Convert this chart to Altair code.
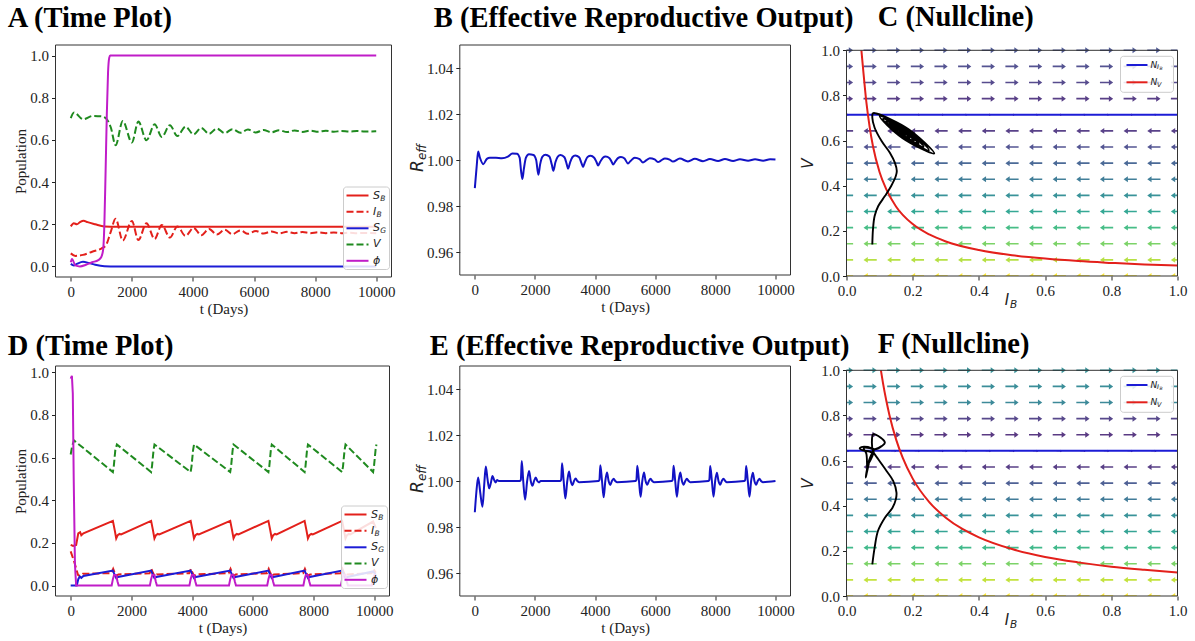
import altair as alt
import pandas as pd

SERIF = "Liberation Serif"
SANS = "DejaVu Sans"
RED = "#e3201b"
BLUE = "#1c1cd6"
DBLUE = "#1212c4"
GREEN = "#1f8a1f"
MAGENTA = "#c01cc8"
BLACK = "#000000"
DASH = [7, 3]

T_TICKS = [0, 2000, 4000, 6000, 8000, 10000]
POP_TICKS = [0.0, 0.2, 0.4, 0.6, 0.8, 1.0]
R_TICKS = [0.96, 0.98, 1.00, 1.02, 1.04]
UNIT_TICKS = [0.0, 0.2, 0.4, 0.6, 0.8, 1.0]

PANEL_TITLES = ["A (Time Plot)", "B (Effective Reproductive Output)", "C (Nullcline)",
                "D (Time Plot)", "E (Effective Reproductive Output)", "F (Nullcline)"]

TS_LEG_MAIN = ["S", "I", "S", "V", "ϕ"]
TS_LEG_SUB = ["B", "B", "G", "", ""]
NC_LEG_MAIN = ["N", "N"]
NC_LEG_SUB = ["I", "V"]
NC_LEG_SUBSUB = ["B", ""]

# ---------------- Panel A ----------------
A_SB_T = [0, 100, 200, 300, 420, 550, 800, 1100, 1500, 10000]
A_SB = [0.19, 0.205, 0.2, 0.21, 0.217, 0.21, 0.2, 0.19, 0.188, 0.188]
A_IB_T = [0, 150, 400, 700, 1000, 1150, 1300, 1468, 1702, 2000, 2213, 2479, 2745, 2979, 3245, 3490,
          3756, 4022, 4270, 4530, 4780, 5040, 5290, 5550, 5800, 6060, 6310, 6570, 6820, 7080, 7330,
          7590, 7840, 8100, 8350, 8610, 8860, 9120, 9370, 9630, 10000]
A_IB = [0.062, 0.05, 0.055, 0.07, 0.085, 0.1, 0.16, 0.226, 0.123, 0.216, 0.125, 0.205, 0.13, 0.197,
        0.137, 0.19, 0.145, 0.183, 0.148, 0.178, 0.151, 0.174, 0.153, 0.171, 0.155, 0.168, 0.156,
        0.166, 0.157, 0.164, 0.158, 0.163, 0.158, 0.162, 0.158, 0.161, 0.158, 0.16, 0.158, 0.159, 0.158]
A_SG_T = [0, 100, 200, 400, 600, 800, 1100, 1500, 10000]
A_SG = [0.012, 0.005, 0.012, 0.022, 0.016, 0.008, 0.001, 0.0, 0.0]
A_V_T = [0, 106, 404, 723, 1000, 1149, 1309, 1468, 1702, 2000, 2213, 2479, 2745, 2979, 3245, 3490,
         3756, 4022, 4270, 4530, 4780, 5040, 5290, 5550, 5800, 6060, 6310, 6570, 6820, 7080, 7330,
         7590, 7840, 8100, 8350, 8610, 8860, 9120, 9370, 9630, 10000]
A_V = [0.703, 0.73, 0.698, 0.714, 0.712, 0.703, 0.66, 0.575, 0.69, 0.588, 0.687, 0.598, 0.674, 0.614,
       0.67, 0.618, 0.663, 0.626, 0.657, 0.629, 0.654, 0.632, 0.651, 0.634, 0.649, 0.635, 0.647,
       0.636, 0.646, 0.637, 0.645, 0.638, 0.644, 0.639, 0.643, 0.639, 0.642, 0.64, 0.642, 0.64, 0.641]
A_PHI_T = [0, 40, 150, 300, 500, 700, 900, 1000, 1060, 1100, 1140, 1180, 1220, 1260, 1290, 1400, 10000]
A_PHI = [0.02, 0.035, 0.005, 0.0, 0.008, 0.02, 0.03, 0.045, 0.08, 0.2, 0.45, 0.72, 0.92, 0.99, 1.0, 1.0, 1.0]

# ---------------- Panel B ----------------
B_T = [0, 60, 110, 170, 280, 400, 500, 700, 900, 1100, 1250, 1400, 1490, 1540, 1583, 1630, 1700, 1800,
       1950, 2040, 2115, 2170, 2250, 2350, 2480, 2560, 2613, 2680, 2760, 2850, 2980, 3060, 3101, 3170,
       3250, 3340, 3470, 3550, 3600, 3660, 3750, 3850, 3970, 4050, 4100, 4170, 4260, 4350, 4480, 4550,
       4600, 4670, 4760, 4860, 4980, 5094, 5180, 5320, 5480, 5592, 5700, 5820, 5980, 6090, 6200, 6320,
       6480, 6590, 6820, 7090, 7320, 7590, 7820, 8090, 8320, 8590, 8820, 9090, 9320, 9590, 9820, 10000]
B_R = [0.9878, 0.997, 1.0037, 1.001, 0.9982, 1.0005, 1.001, 1.001, 1.0008, 1.0015, 1.0028, 1.0027,
       1.001, 0.995, 0.9917, 0.996, 1.001, 1.0025, 1.0022, 1.0, 0.9936, 0.998, 1.0015, 1.0023, 1.0015,
       0.998, 0.9953, 0.999, 1.0015, 1.0022, 1.0012, 0.998, 0.9962, 0.999, 1.0013, 1.002, 1.0012,
       0.9985, 0.997, 0.999, 1.0013, 1.0018, 1.001, 0.999, 0.9976, 0.9992, 1.001, 1.0015, 1.0008,
       0.9992, 0.998, 0.9993, 1.0008, 1.0013, 1.0006, 0.9985, 0.9996, 1.001, 1.0004, 0.9989, 0.9998,
       1.0008, 1.0003, 0.9991, 0.9998, 1.0007, 1.0002, 0.9993, 1.0006, 0.9994, 1.0005, 0.9995, 1.0004,
       0.9996, 1.0004, 0.9996, 1.0003, 0.9997, 1.0003, 0.9997, 1.0003, 1.0002]

# ---------------- Panel D ----------------
D_SB_T = [0, 80, 180, 250, 310, 350, 420,
          1390, 1450, 1500, 1550, 1610, 1660,
          2649, 2709, 2759, 2809, 2869, 2919,
          3951, 4011, 4061, 4111, 4171, 4221,
          5254, 5314, 5364, 5414, 5474, 5524,
          6512, 6572, 6622, 6672, 6732, 6782,
          7704, 7764, 7814, 7864, 7924, 7974,
          8940, 9000, 9050, 9100, 9160, 9210,
          9960, 10050]
D_SB = [0.191, 0.186, 0.19, 0.245, 0.25, 0.236, 0.245,
        0.303, 0.26, 0.221, 0.236, 0.242, 0.24,
        0.303, 0.26, 0.221, 0.236, 0.242, 0.24,
        0.303, 0.26, 0.221, 0.236, 0.242, 0.24,
        0.303, 0.26, 0.221, 0.236, 0.242, 0.24,
        0.303, 0.26, 0.221, 0.236, 0.242, 0.24,
        0.303, 0.26, 0.221, 0.236, 0.242, 0.24,
        0.303, 0.26, 0.221, 0.236, 0.242, 0.24,
        0.3, 0.27]
D_IB_T = [0, 60, 120, 180, 240, 300, 400,
          1340, 1400, 1450, 1500, 1570,
          2599, 2659, 2709, 2759, 2829,
          3901, 3961, 4011, 4061, 4131,
          5204, 5264, 5314, 5364, 5434,
          6462, 6522, 6572, 6622, 6692,
          7654, 7714, 7764, 7814, 7884,
          8890, 8950, 9000, 9050, 9120,
          9910, 9970, 10050]
D_IB = [0.16, 0.135, 0.11, 0.08, 0.05, 0.045, 0.055,
        0.058, 0.078, 0.06, 0.045, 0.052,
        0.058, 0.078, 0.06, 0.045, 0.052,
        0.058, 0.078, 0.06, 0.045, 0.052,
        0.058, 0.078, 0.06, 0.045, 0.052,
        0.058, 0.078, 0.06, 0.045, 0.052,
        0.058, 0.078, 0.06, 0.045, 0.052,
        0.058, 0.078, 0.06, 0.045, 0.052,
        0.058, 0.078, 0.06]
D_SG_T = [0, 200, 250, 300, 350, 420,
          1390, 1450, 1500, 1560,
          2649, 2709, 2759, 2819,
          3951, 4011, 4061, 4121,
          5254, 5314, 5364, 5424,
          6512, 6572, 6622, 6682,
          7704, 7764, 7814, 7874,
          8940, 9000, 9050, 9110,
          9960, 10050]
D_SG = [0.0, 0.0, 0.03, 0.042, 0.036, 0.045,
        0.07, 0.05, 0.035, 0.04,
        0.07, 0.05, 0.035, 0.04,
        0.07, 0.05, 0.035, 0.04,
        0.07, 0.05, 0.035, 0.04,
        0.07, 0.05, 0.035, 0.04,
        0.07, 0.05, 0.035, 0.04,
        0.07, 0.05, 0.035, 0.04,
        0.066, 0.05]
D_V_T = [0, 50, 110, 1390, 1420, 1470, 1523, 2649, 2679, 2729, 2760, 3951, 3981, 4031, 4062,
         5254, 5284, 5334, 5364, 6512, 6542, 6592, 6623, 7704, 7734, 7784, 7815,
         8940, 8970, 9020, 9051, 9960, 9990, 10040, 10070]
D_V = [0.614, 0.655, 0.68, 0.532, 0.56, 0.635, 0.661, 0.532, 0.56, 0.635, 0.661, 0.532, 0.56, 0.635, 0.661,
       0.532, 0.56, 0.635, 0.661, 0.532, 0.56, 0.635, 0.661, 0.532, 0.56, 0.635, 0.661,
       0.532, 0.56, 0.635, 0.661, 0.532, 0.56, 0.635, 0.661]
D_PHI_T = [0, 40, 70, 100, 140, 180,
           1350, 1390, 1430, 1500, 1540, 1580,
           2609, 2649, 2689, 2760, 2800, 2840,
           3911, 3951, 3991, 4062, 4102, 4142,
           5214, 5254, 5294, 5364, 5404, 5444,
           6472, 6512, 6552, 6623, 6663, 6703,
           7664, 7704, 7744, 7815, 7855, 7895,
           8900, 8940, 8980, 9051, 9091, 9131,
           9920, 9960, 10000, 10060]
D_PHI = [0.97, 0.983, 0.9, 0.5, 0.1, 0.0,
         0.0, 0.03, 0.05, 0.05, 0.02, 0.0,
         0.0, 0.03, 0.05, 0.05, 0.02, 0.0,
         0.0, 0.03, 0.05, 0.05, 0.02, 0.0,
         0.0, 0.03, 0.05, 0.05, 0.02, 0.0,
         0.0, 0.03, 0.05, 0.05, 0.02, 0.0,
         0.0, 0.03, 0.05, 0.05, 0.02, 0.0,
         0.0, 0.03, 0.05, 0.05, 0.02, 0.0,
         0.0, 0.03, 0.05, 0.05]

# ---------------- Panel E ----------------
E_T = [0, 50, 110, 180, 255, 310, 365, 420, 476, 530, 587, 640, 690, 740, 800,
       1500, 1530, 1561, 1610, 1672, 1740, 1805, 1860, 1916, 1970, 2027, 2080, 2137, 2190, 2248,
       2840, 2870, 2902, 2955, 3012, 3075, 3134, 3190, 3245, 3300, 3355, 3410, 3466,
       4115, 4145, 4175, 4230, 4286, 4340, 4396, 4450, 4507, 4560, 4618, 4670, 4729,
       5345, 5375, 5404, 5460, 5515, 5570, 5626, 5680, 5736, 5790, 5847, 5900, 5958,
       6550, 6580, 6611, 6665, 6722, 6778, 6833, 6890, 6944, 7000, 7054, 7110, 7165,
       7770, 7800, 7829, 7885, 7940, 7995, 8051, 8105, 8162, 8215, 8272, 8330, 8383,
       8965, 8995, 9025, 9080, 9136, 9190, 9247, 9300, 9358, 9410, 9468, 9520, 9579, 10000]
E_R = [0.9864, 0.995, 1.0015, 0.995, 0.9888, 0.998, 1.0063, 1.001, 0.9968, 0.999, 1.0022, 1.0005, 0.9994, 1.0004, 1.0,
       1.0, 1.0005, 1.0087, 1.0, 0.9919, 1.0, 1.0044, 1.0, 0.9979, 1.0, 1.0015, 1.0, 0.9994, 1.0, 1.0,
       1.0, 1.0005, 1.0077, 1.0, 0.9924, 1.0, 1.0041, 1.0, 0.9982, 1.0, 1.0011, 1.0, 0.9995,
       1.0, 1.0005, 1.0068, 1.0, 0.9929, 1.0, 1.0037, 1.0, 0.9983, 1.0, 1.001, 1.0, 0.9995,
       1.0, 1.0005, 1.0066, 1.0, 0.9931, 1.0, 1.0037, 1.0, 0.9984, 1.0, 1.001, 1.0, 0.9995,
       1.0, 1.0005, 1.0066, 1.0, 0.9931, 1.0, 1.0037, 1.0, 0.9984, 1.0, 1.001, 1.0, 0.9995,
       1.0, 1.0005, 1.0065, 1.0, 0.9932, 1.0, 1.0036, 1.0, 0.9984, 1.0, 1.001, 1.0, 0.9995,
       1.0, 1.0005, 1.0065, 1.0, 0.9932, 1.0, 1.0036, 1.0, 0.9984, 1.0, 1.001, 1.0, 0.9995, 1.0]

# ---------------- Panels C / F ----------------
GRID = [0.0, 0.0714, 0.1429, 0.2143, 0.2857, 0.3571, 0.4286, 0.5, 0.5714, 0.6429, 0.7143,
        0.7857, 0.8571, 0.9286, 1.0]
C_ROW_DIR = ["L", "L", "L", "L", "L", "L", "L", "L", "L", "L", "0", "R", "R", "R", "R"]
C_ROW_MAG = [1.0, 0.88, 0.78, 0.66, 0.56, 0.46, 0.37, 0.28, 0.2, 0.13, 0.0, 0.12, 0.16, 0.19, 0.22]
F_ROW_DIR = ["L", "L", "L", "L", "L", "L", "L", "L", "L", "0", "R", "R", "R", "R", "R"]
F_ROW_MAG = [1.0, 0.9, 0.78, 0.64, 0.54, 0.46, 0.36, 0.24, 0.12, 0.0, 0.1, 0.15, 0.42, 0.44, 0.46]

C_NULL_IB = [0.714]
F_NULL_IB = [0.643]
C_NV_I = [0.045, 0.05, 0.06, 0.07, 0.08, 0.1, 0.12, 0.15, 0.2, 0.25, 0.3, 0.4, 0.5, 0.6, 0.7, 0.8, 0.9, 1.0]
C_NV_V = [1.0, 0.92, 0.77, 0.66, 0.575, 0.46, 0.385, 0.307, 0.23, 0.184, 0.153, 0.115, 0.092, 0.077,
          0.066, 0.058, 0.051, 0.046]
F_NV_I = [0.104, 0.11, 0.12, 0.13, 0.15, 0.17, 0.2, 0.25, 0.3, 0.35, 0.4, 0.5, 0.6, 0.7, 0.8, 0.9, 1.0]
F_NV_V = [1.0, 0.945, 0.867, 0.8, 0.693, 0.612, 0.52, 0.416, 0.347, 0.297, 0.26, 0.208, 0.173, 0.149,
          0.13, 0.116, 0.104]

C_TRAJ_I = [0.078, 0.080, 0.085, 0.096, 0.116, 0.135, 0.149, 0.152, 0.146, 0.131, 0.106, 0.085, 0.078, 0.080,
            0.090, 0.1865, 0.265, 0.1685,
            0.1002, 0.1823, 0.2490, 0.1669,
            0.1104, 0.1780, 0.2329, 0.1654,
            0.1199, 0.1739, 0.2179, 0.1639,
            0.1288, 0.1703, 0.2040, 0.1625,
            0.1376, 0.1666, 0.1901, 0.1612,
            0.1458, 0.1632, 0.1773, 0.1600, 0.158]
C_TRAJ_V = [0.140, 0.207, 0.266, 0.310, 0.354, 0.399, 0.443, 0.465, 0.502, 0.546, 0.598, 0.657, 0.701, 0.721,
            0.720, 0.6513, 0.543, 0.6117,
            0.7082, 0.6498, 0.5577, 0.6162,
            0.6963, 0.6483, 0.5724, 0.6205,
            0.6852, 0.6468, 0.5861, 0.6246,
            0.6750, 0.6455, 0.5989, 0.6285,
            0.6647, 0.6441, 0.6116, 0.6323,
            0.6552, 0.6429, 0.6234, 0.6357, 0.641]
F_TRAJ_I = [0.078, 0.085, 0.095, 0.116, 0.139, 0.149, 0.151, 0.141, 0.121, 0.096, 0.080, 0.077, 0.080, 0.096,
            0.116, 0.106, 0.086, 0.065, 0.045, 0.040, 0.050, 0.070, 0.080, 0.065, 0.058, 0.062, 0.070,
            0.082, 0.070, 0.052, 0.060, 0.063, 0.068, 0.080]
F_TRAJ_V = [0.140, 0.214, 0.288, 0.347, 0.391, 0.428, 0.458, 0.510, 0.554, 0.606, 0.642, 0.694, 0.716, 0.709,
            0.679, 0.664, 0.650, 0.660, 0.660, 0.653, 0.645, 0.640, 0.630, 0.580, 0.525, 0.550, 0.600,
            0.645, 0.655, 0.655, 0.630, 0.560, 0.600, 0.640]

ARROW_R = "M-1,-0.12L0.35,-0.12L0.35,-0.45L1,0L0.35,0.45L0.35,0.12L-1,0.12Z"
ARROW_L = "M1,-0.12L-0.35,-0.12L-0.35,-0.45L-1,0L-0.35,0.45L-0.35,0.12L1,0.12Z"

ONE = pd.DataFrame({"k": [0]})
LAB = 15


def axis(values, fmt, title, title_font=SERIF, title_style="normal", title_pad=4, offset=0):
    return alt.Axis(values=values, format=fmt, title=title, labelFont=SERIF, labelFontSize=LAB,
                    titleFont=title_font, titleFontStyle=title_style, titleFontSize=15,
                    titleFontWeight="normal", tickSize=4, labelPadding=3, titlePadding=title_pad,
                    grid=False, domain=False, labelFlush=False, labelOverlap=False, offset=offset,
                    labelColor="#222222", titleColor="#222222", tickColor="#222222")


def ttl(text, dx, offset):
    return alt.TitleParams(text=text, anchor="start", frame="group", dx=dx, font=SERIF, fontSize=28.5,
                           fontWeight="bold", color="#000000", offset=offset)


def txt(s, x, y, size, angle=0, align="center", font=SANS, style="italic"):
    return alt.Chart(ONE).mark_text(text=s, font=font, fontStyle=style, fontSize=size, angle=angle,
                                    align=align, baseline="middle", color="#222222").encode(
        x=alt.value(x), y=alt.value(y))


def rect(x0, x1, y0, y1, **kw):
    return alt.Chart(ONE).mark_rect(**kw).encode(
        x=alt.value(x0), x2=alt.value(x1), y=alt.value(y0), y2=alt.value(y1))


def frame(x0, x1, y0, y1):
    return rect(x0, x1, y0, y1, fillOpacity=0, stroke="#333333", strokeWidth=1)


def legend_box(x0, x1, y0, y1):
    return rect(x0, x1, y0, y1, fill="white", fillOpacity=0.85, stroke="#cccccc", strokeWidth=1,
                cornerRadius=3)


def legend_line(x0, x1, y, color, dash):
    kw = dict(color=color, strokeWidth=2)
    if dash:
        kw["strokeDash"] = dash
    return alt.Chart(ONE).mark_rule(**kw).encode(x=alt.value(x0), x2=alt.value(x1), y=alt.value(y))


TS_COLORS = [RED, RED, BLUE, GREEN, MAGENTA]
TS_DASHES = [None, DASH, None, DASH, None]
TS_ROW_OFF = [81.5, 65.2, 48.7, 32.6, 16.2]
MAIN_W = {"S": 7.2, "I": 3.4, "V": 7.4, "ϕ": 7.0, "N": 7.6}
VIEW = alt.ViewBackground(strokeOpacity=0, strokeWidth=0)


def ts_legend(w, h):
    layers = [legend_box(w - 48, w - 2, h - 90, h - 7.5)]
    for i in range(5):
        y = h - TS_ROW_OFF[i]
        layers.append(legend_line(w - 45, w - 23, y, TS_COLORS[i], TS_DASHES[i]))
        layers.append(txt(TS_LEG_MAIN[i], w - 18.5, y, 11, align="left"))
        if TS_LEG_SUB[i]:
            layers.append(txt(TS_LEG_SUB[i], w - 18.5 + MAIN_W[TS_LEG_MAIN[i]], y + 3, 7.5, align="left"))
    return layers


def time_panel(series, ydom, w, h, title, dx, toff, interp):
    xsc = alt.Scale(domain=[-500, 10500], range=[0, w], nice=False, zero=False)
    ysc = alt.Scale(domain=ydom, range=[h, 0], nice=False, zero=False)
    layers = []
    for (t, v, color, dash) in series:
        df = pd.DataFrame({"t": t, "v": v})
        kw = dict(color=color, strokeWidth=2, interpolate=interp, clip=True)
        if dash:
            kw["strokeDash"] = dash
        layers.append(alt.Chart(df).mark_line(**kw).encode(
            x=alt.X("t:Q", scale=xsc, axis=axis(T_TICKS, "d", "t (Days)", title_pad=2)),
            y=alt.Y("v:Q", scale=ysc, axis=axis(POP_TICKS, ".1f", "Population", title_pad=1))))
    layers.append(frame(0, w, 0, h))
    layers += ts_legend(w, h)
    return alt.layer(*layers).properties(width=w, height=h, title=ttl(title, dx, toff), view=VIEW)


def reff_panel(t, r, fx0, w, h, title, dx, toff):
    xsc = alt.Scale(domain=[-500, 10500], range=[fx0, w], nice=False, zero=False)
    ysc = alt.Scale(domain=[0.95, 1.05], range=[h, 0], nice=False, zero=False)
    df = pd.DataFrame({"t": t, "r": r})
    line = alt.Chart(df).mark_line(color=DBLUE, strokeWidth=2, interpolate="monotone", clip=True).encode(
        x=alt.X("t:Q", scale=xsc, axis=axis(T_TICKS, "d", "t (Days)", title_pad=2)),
        y=alt.Y("r:Q", scale=ysc, axis=axis(R_TICKS, ".2f", "", offset=-fx0)))
    layers = [line, frame(fx0, w, 0, h),
              txt("R", fx0 - 42, h / 2 + 6, 17, angle=270),
              txt("eff", fx0 - 38, h / 2 - 8, 12, angle=270)]
    return alt.layer(*layers).properties(width=w, height=h, title=ttl(title, dx, toff), view=VIEW)


def null_panel(dirs, mags, vstar, nv_i, nv_v, tr_i, tr_v, fy0, w, h, title, dx, toff):
    xsc = alt.Scale(domain=[0, 1], range=[0, w], nice=False, zero=False)
    ysc = alt.Scale(domain=[0, 1], range=[h, fy0], nice=False, zero=False)
    rows = []
    for j, yv in enumerate(GRID):
        for xv in GRID:
            rows.append({"x": xv, "y": yv, "d": dirs[j], "m": mags[j]})
    q = pd.DataFrame(rows)
    enc = dict(
        x=alt.X("x:Q", scale=xsc, axis=axis(UNIT_TICKS, ".1f", "")),
        y=alt.Y("y:Q", scale=ysc, axis=axis(UNIT_TICKS, ".1f", "V", SANS, "italic", title_pad=5)),
        color=alt.Color("m:Q", scale=alt.Scale(scheme="viridis", domain=[0, 1]), legend=None))
    base = alt.Chart(q)
    right = base.transform_filter(alt.datum.d == "R").mark_point(
        shape=ARROW_R, filled=True, size=175, opacity=0.9, strokeWidth=0, clip=True).encode(**enc)
    left = base.transform_filter(alt.datum.d == "L").mark_point(
        shape=ARROW_L, filled=True, size=175, opacity=0.9, strokeWidth=0, clip=True).encode(**enc)
    zero = base.transform_filter(alt.datum.d == "0").mark_point(
        shape=ARROW_R, filled=True, size=30, opacity=0.9, strokeWidth=0, clip=True).encode(**enc)
    blue = alt.Chart(pd.DataFrame({"v": vstar})).mark_rule(color=BLUE, strokeWidth=2).encode(
        y=alt.Y("v:Q", scale=ysc))
    red = alt.Chart(pd.DataFrame({"i": nv_i, "v": nv_v})).mark_line(
        color=RED, strokeWidth=2, interpolate="monotone", clip=True).encode(
        x=alt.X("i:Q", scale=xsc), y=alt.Y("v:Q", scale=ysc))
    traj = alt.Chart(pd.DataFrame({"i": tr_i, "v": tr_v, "k": list(range(len(tr_i)))})).mark_line(
        color=BLACK, strokeWidth=1.9, interpolate="catmull-rom", clip=True).encode(
        x=alt.X("i:Q", scale=xsc), y=alt.Y("v:Q", scale=ysc), order=alt.Order("k:Q"))
    layers = [right, left, zero, blue, red, traj, frame(0, w, fy0, h)]
    layers += [txt("I", w / 2 - 5, h + 24, 15), txt("B", w / 2 + 1.5, h + 29, 10.5)]
    ly = fy0
    layers.append(legend_box(w - 57, w - 4, ly + 6, ly + 42))
    layers.append(legend_line(w - 51, w - 30, ly + 14.7, BLUE, None))
    layers.append(legend_line(w - 51, w - 30, ly + 32, RED, None))
    layers.append(txt(NC_LEG_MAIN[0], w - 27, ly + 14.7, 9, align="left"))
    layers.append(txt(NC_LEG_SUB[0], w - 27 + 6.5, ly + 17, 6.5, align="left"))
    layers.append(txt(NC_LEG_SUBSUB[0], w - 27 + 9, ly + 18.5, 4.5, align="left"))
    layers.append(txt(NC_LEG_MAIN[1], w - 27, ly + 32, 9, align="left"))
    layers.append(txt(NC_LEG_SUB[1], w - 27 + 6.5, ly + 34.5, 6.5, align="left"))
    return alt.layer(*layers).properties(width=w, height=h, title=ttl(title, dx, toff), view=VIEW)


T1 = 11.9
T2 = 4.6
A = time_panel([(A_SB_T, A_SB, RED, None), (A_IB_T, A_IB, RED, DASH), (A_SG_T, A_SG, BLUE, None),
                (A_V_T, A_V, GREEN, DASH), (A_PHI_T, A_PHI, MAGENTA, None)],
               [-0.05, 1.05], 336, 232, PANEL_TITLES[0], -47.7, T1, "monotone")
D = time_panel([(D_SB_T, D_SB, RED, None), (D_IB_T, D_IB, RED, DASH), (D_SG_T, D_SG, BLUE, None),
                (D_V_T, D_V, GREEN, DASH), (D_PHI_T, D_PHI, MAGENTA, None)],
               [-0.049, 1.029], 334, 230, PANEL_TITLES[3], -47.7, T2, "linear")
B = reff_panel(B_T, B_R, 12.3, 343, 230, PANEL_TITLES[1], -13.7, T1)
E = reff_panel(E_T, E_R, 12.3, 343, 230, PANEL_TITLES[4], -17.7, T2)
C = null_panel(C_ROW_DIR, C_ROW_MAG, C_NULL_IB, C_NV_I, C_NV_V, C_TRAJ_I, C_TRAJ_V, 5.3, 331, 231,
               PANEL_TITLES[2], 31.3, T1)
F = null_panel(F_ROW_DIR, F_ROW_MAG, F_NULL_IB, F_NV_I, F_NV_V, F_TRAJ_I, F_TRAJ_V, 4.3, 331, 230,
               PANEL_TITLES[5], 31.3, T2)

chart = alt.concat(A, B, C, D, E, F, columns=3, spacing={"row": 89, "column": 56}, bounds="flush",
                   align="each").properties(
    padding={"left": 7.5, "top": 2, "right": 5, "bottom": 5}, background="white"
).configure_view(strokeWidth=0)

chart.save("out.html", embed_options={"renderer": "svg", "actions": False})
